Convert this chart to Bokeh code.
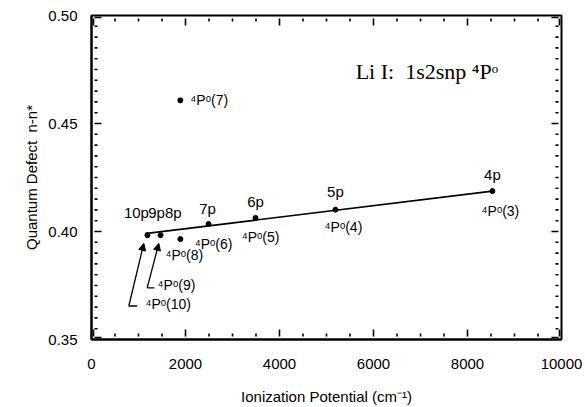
from bokeh.plotting import figure
from bokeh.models import (ColumnDataSource, LinearAxis, SingleIntervalTicker,
                          NumeralTickFormatter, Arrow, NormalHead, Label, Range1d)
from bokeh.core.properties import value
from bokeh.embed import file_html
from bokeh.resources import INLINE

# ---------------- data ----------------
state_labels = ["⁴Pᵒ(3)", "⁴Pᵒ(4)", "⁴Pᵒ(5)", "⁴Pᵒ(6)", "⁴Pᵒ(7)", "⁴Pᵒ(8)", "⁴Pᵒ(9)", "⁴Pᵒ(10)"]
config_labels = ["4p", "5p", "6p", "7p", "", "8p", "9p", "10p"]
ionization = [8530, 5190, 3490, 2490, 1890, 1890, 1470, 1190]
quantum_defect = [0.4187, 0.4101, 0.4063, 0.4035, 0.4607, 0.3965, 0.3983, 0.3983]

fit_x = [1140, 8530]
fit_y = [0.3990, 0.4187]

# arrows pointing from the 4Po(9) / 4Po(10) labels to their points
arrow_x0 = [1185, 794]
arrow_y0 = [0.3739, 0.3655]
arrow_x1 = [1432, 1113]
arrow_y1 = [0.3945, 0.3945]
stub_x1 = [1340, 972]

title_text = "Li I:\u00a0 1s2snp ⁴Pᵒ"
x_label = "Ionization Potential (cm⁻¹)"
y_label = "Quantum Defect\u00a0 n-n*"

X_MIN, X_MAX, X_MAJOR, X_MINOR = 0.0, 10000.0, 2000.0, 500.0
Y_MIN, Y_MAX, Y_MAJOR, Y_MINOR = 0.35, 0.50, 0.05, 0.005

# ---------------- styles (label offsets in screen px) ----------------
state_dx = [8, 8, 5, 5, 10, 4, -3, -2]
state_dy = [20, 17, 19, 20, 0, 16, 50, 69]
state_align = ["center", "center", "center", "center", "left", "center", "left", "left"]
config_dx = [0, 0, 0, -1, 0, -7, -4, -11]
config_dy = [-17, -18, -16, -15, 0, -27, -23, -23]

FONT = "Liberation Sans"
W, H = 585, 407
BL, BR, BT, BB = 91, 24, 15, 65
FRAME_W, FRAME_H = W - BL - BR, H - BT - BB

p = figure(width=W, height=H, output_backend="svg", toolbar_location=None,
           x_range=Range1d(X_MIN, X_MAX), y_range=Range1d(Y_MIN, Y_MAX),
           x_axis_type=None, y_axis_type=None,
           min_border_left=BL, min_border_right=BR, min_border_top=BT, min_border_bottom=BB)
p.xgrid.visible = False
p.ygrid.visible = False
p.outline_line_color = "black"
p.outline_line_width = 2
p.background_fill_color = "white"
p.border_fill_color = "white"

xt = SingleIntervalTicker(interval=X_MAJOR, num_minor_ticks=4)
yt = SingleIntervalTicker(interval=Y_MAJOR, num_minor_ticks=10)


def style_axis(ax):
    ax.axis_line_color = "black"
    ax.axis_line_width = 2
    ax.major_tick_in = 0
    ax.major_tick_out = 0
    ax.minor_tick_in = 0
    ax.minor_tick_out = 0
    ax.major_label_text_font = FONT
    ax.major_label_text_font_size = "15px"
    ax.major_label_text_color = "black"
    ax.axis_label_text_font = FONT
    ax.axis_label_text_font_size = "15px"
    ax.axis_label_text_font_style = "normal"
    ax.axis_label_text_color = "black"


xb = LinearAxis(ticker=xt, axis_label=x_label)
style_axis(xb)
xb.major_label_standoff = 19
xb.axis_label_standoff = 16
p.add_layout(xb, "below")

yl = LinearAxis(ticker=yt, axis_label=y_label, formatter=NumeralTickFormatter(format="0.00"))
style_axis(yl)
yl.major_label_standoff = 14
yl.axis_label_standoff = 5
p.add_layout(yl, "left")

# inward ticks (vertical ones on top/bottom, horizontal ones on left/right)
dx_per_px = (X_MAX - X_MIN) / FRAME_W
dy_per_px = (Y_MAX - Y_MIN) / FRAME_H
GAP = 3
vx0, vy0, vx1, vy1 = [], [], [], []
n_x = int(round((X_MAX - X_MIN) / X_MINOR))
for i in range(n_x + 1):
    xv = X_MIN + i * X_MINOR
    xv = min(max(xv, X_MIN + 2 * dx_per_px), X_MAX - 2 * dx_per_px)
    ln = 10 if i % 4 == 0 else 6
    vx0 += [xv, xv]
    vx1 += [xv, xv]
    vy0 += [Y_MIN + GAP * dy_per_px, Y_MAX - GAP * dy_per_px]
    vy1 += [Y_MIN + ln * dy_per_px, Y_MAX - ln * dy_per_px]
p.segment(vx0, vy0, vx1, vy1, line_color="black", line_width=1.6)

hx0, hy0, hx1, hy1 = [], [], [], []
n_y = int(round((Y_MAX - Y_MIN) / Y_MINOR))
for i in range(n_y + 1):
    yv = Y_MIN + i * Y_MINOR
    yv = min(max(yv, Y_MIN + 2 * dy_per_px), Y_MAX - 2 * dy_per_px)
    ln = 10 if i % 10 == 0 else 6
    hx0 += [X_MIN + GAP * dx_per_px, X_MAX - GAP * dx_per_px]
    hx1 += [X_MIN + ln * dx_per_px, X_MAX - ln * dx_per_px]
    hy0 += [yv, yv]
    hy1 += [yv, yv]
p.segment(hx0, hy0, hx1, hy1, line_color="black", line_width=1.6)

# fit line
p.line(fit_x, fit_y, line_color="black", line_width=1.6)

# points
src = ColumnDataSource(dict(x=ionization, y=quantum_defect, st=state_labels, cf=config_labels,
                            sdx=state_dx, sdy=state_dy, sal=state_align,
                            cdx=config_dx, cdy=config_dy))
p.scatter("x", "y", source=src, size=5, fill_color="black", line_color="black")

p.text("x", "y", text="st", source=src, x_offset="sdx", y_offset="sdy",
       text_align="sal", text_baseline="middle", text_font=value(FONT),
       text_font_size="14px", text_color="black")
p.text("x", "y", text="cf", source=src, x_offset="cdx", y_offset="cdy",
       text_align="center", text_baseline="middle", text_font=value(FONT),
       text_font_size="15px", text_color="black")

# arrows and stubs
for x0, y0, x1, y1 in zip(arrow_x0, arrow_y0, arrow_x1, arrow_y1):
    p.add_layout(Arrow(x_start=x0, y_start=y0, x_end=x1, y_end=y1, line_width=1.3,
                       line_color="black",
                       end=NormalHead(size=7, fill_color="black", line_color="black")))
p.segment(arrow_x0, arrow_y0, stub_x1, arrow_y0, line_color="black", line_width=1.3)

# title inside plot
p.add_layout(Label(x=5620, y=0.4742, text=title_text, text_baseline="middle",
                   text_font="Liberation Serif", text_font_size="22px", text_color="black"))

open("out.html", "w").write(file_html(p, INLINE))
